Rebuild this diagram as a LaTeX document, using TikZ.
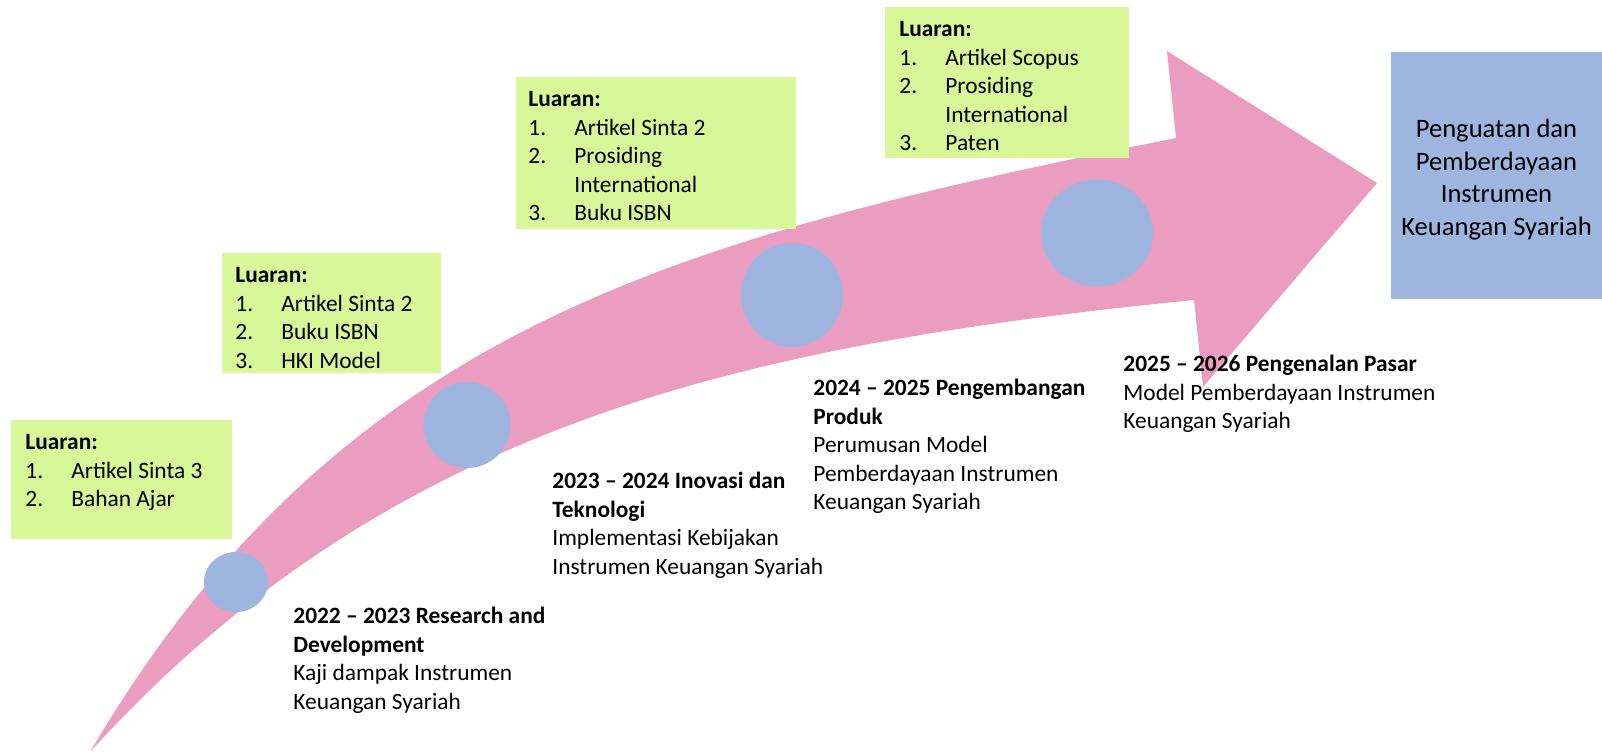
\documentclass[tikz,border=0pt]{standalone}
\usepackage{fontspec}
\setmainfont{Carlito}
\usetikzlibrary{shapes.geometric}

\definecolor{arrowpink}{HTML}{EA9DC0}
\definecolor{outgreen}{HTML}{D8F799}
\definecolor{dotblue}{HTML}{9DB5DF}

\newcommand{\itemno}[2]{\makebox[23pt][l]{#1}#2}
\newcommand{\itemcont}[1]{\hspace*{23pt}#1}

\tikzset{
  luaranbox/.style={fill=outgreen, inner sep=0pt, anchor=north west},
  % placed at the baseline of the last line
  listtext/.style={anchor=base west, inner sep=0pt, align=left,
    font=\fontsize{11.7}{14.3}\selectfont},
  dot/.style={ellipse, fill=dotblue, inner sep=0pt},
}

\begin{document}
\begin{tikzpicture}[x=0.5pt, y=-0.5pt]
  \useasboundingbox (0,0) rectangle (1602,754);

  % curved arrow
  \coordinate (tail) at (90,752);
  \coordinate (shafttop) at (1176,138);
  \coordinate (shaftbot) at (1194,300);
  \coordinate (barbtop) at (1167,51);
  \coordinate (barbbot) at (1203,387);
  \coordinate (tip) at (1377,183);
  \fill[arrowpink] (tail) .. controls (390,422) and (744,345) .. (shaftbot)
    -- (barbbot) -- (tip) -- (barbtop) -- (shafttop)
    .. controls (676,238) and (340,327) .. (tail) -- cycle;

  % stage dots
  \node[dot, minimum width=32pt, minimum height=30pt] (dot1) at (236,582) {};
  \node[dot, minimum width=43.5pt, minimum height=43pt] (dot2) at (467,425) {};
  \node[dot, minimum width=51pt, minimum height=52pt] (dot3) at (792,295) {};
  \node[dot, minimum width=56pt, minimum height=53.5pt] (dot4) at (1097,233) {};

  % luaran boxes
  \node[luaranbox, minimum width=110.5pt, minimum height=59.5pt] (box1) at (11,420) {};
  \node[luaranbox, minimum width=109.5pt, minimum height=60pt] (box2) at (222,253) {};
  \node[luaranbox, minimum width=140pt, minimum height=76pt] (box3) at (516,77) {};
  \node[luaranbox, minimum width=122pt, minimum height=75.5pt] (box4) at (885,7) {};

  \node[listtext] (out1) at (25,506.7) {\textbf{Luaran:}\\
    \itemno{1.}{Artikel Sinta 3}\\
    \itemno{2.}{Bahan Ajar}};
  \node[listtext] (out2) at (235,368.3) {\textbf{Luaran:}\\
    \itemno{1.}{Artikel Sinta 2}\\
    \itemno{2.}{Buku ISBN}\\
    \itemno{3.}{HKI Model}};
  \node[listtext] (out3) at (528,220.9) {\textbf{Luaran:}\\
    \itemno{1.}{Artikel Sinta 2}\\
    \itemno{2.}{Prosiding}\\
    \itemcont{International}\\
    \itemno{3.}{Buku ISBN}};
  \node[listtext] (out4) at (899,150.9) {\textbf{Luaran:}\\
    \itemno{1.}{Artikel Scopus}\\
    \itemno{2.}{Prosiding}\\
    \itemcont{International}\\
    \itemno{3.}{Paten}};

  % stage labels
  \node[listtext] (stage1) at (293,709.3) {\textbf{2022 – 2023 Research and}\\
    \textbf{Development}\\
    Kaji dampak Instrumen\\
    Keuangan Syariah};
  \node[listtext] (stage2) at (552,574.3) {\textbf{2023 – 2024 Inovasi dan}\\
    \textbf{Teknologi}\\
    Implementasi Kebijakan\\
    Instrumen Keuangan Syariah};
  \node[listtext] (stage3) at (813,509.9) {\textbf{2024 – 2025 Pengembangan}\\
    \textbf{Produk}\\
    Perumusan Model\\
    Pemberdayaan Instrumen\\
    Keuangan Syariah};
  \node[listtext] (stage4) at (1123,428.7) {\textbf{2025 – 2026 Pengenalan Pasar}\\
    Model Pemberdayaan Instrumen\\
    Keuangan Syariah};

  % goal
  \node[fill=dotblue, inner sep=0pt, minimum width=105.5pt, minimum height=123.5pt]
    (goal) at (1496.5,175.5) {};
  \node[align=center, inner sep=0pt, font=\fontsize{13.3}{16.2}\selectfont]
    (goaltext) at ([yshift=-2pt]goal.center)
    {Penguatan dan\\ Pemberdayaan\\ Instrumen\\ Keuangan Syariah};
\end{tikzpicture}
\end{document}
